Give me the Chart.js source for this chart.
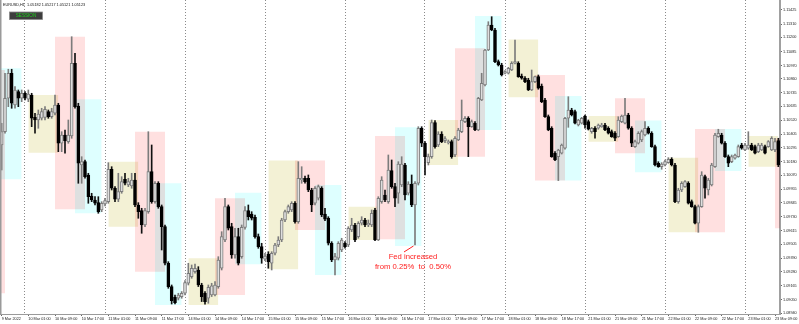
<!DOCTYPE html>
<html lang="en">
<head>
<meta charset="UTF-8">
<title>EURUSD,H1 sessions</title>
<script src="https://cdn.jsdelivr.net/npm/chart.js"></script>
<style>
  html, body { margin: 0; padding: 0; background: #fff; }
  #wrap { width: 799px; height: 324px; }
</style>
</head>
<body>
<div id="wrap"><canvas id="grafico" width="799" height="324"></canvas></div>
<script>
// H1 bars, first bar = 9 Mar 17:00 (broker time)
const days = ['9 Mar', '10 Mar', '11 Mar', '14 Mar', '15 Mar', '16 Mar', '17 Mar', '18 Mar', '21 Mar', '22 Mar', '23 Mar'];
const firstHour = 17;

const open = [
  1.10318,1.10427,1.10701,1.10906,1.10646,1.10755,1.10701,1.10742,1.10693,1.10728,
  1.10545,1.10523,1.10537,1.10545,1.10591,1.10550,1.10578,1.10646,1.10332,1.10400,
  1.10345,1.10392,1.10988,1.10638,1.10154,1.10181,1.10072,1.09900,1.09867,1.09845,
  1.09785,1.09834,1.09853,1.10119,1.09963,1.09873,1.09935,1.10037,1.09990,1.09982,
  1.10031,1.09826,1.09780,1.09662,1.09771,1.10099,1.09853,1.10004,1.09812,1.09648,
  1.09348,1.09157,1.09069,1.09061,1.09075,1.09102,1.09184,1.09239,1.09279,1.09293,
  1.09170,1.09102,1.09061,1.09088,1.09088,1.09157,1.09307,1.09539,1.09812,1.09648,
  1.09416,1.09566,1.09402,1.09643,1.09780,1.09752,1.09725,1.09566,1.09484,1.09381,
  1.09424,1.09348,1.09430,1.09498,1.09539,1.09703,1.09771,1.09785,1.09840,1.09689,
  1.10031,1.10045,1.10045,1.09949,1.09840,1.09881,1.09963,1.09752,1.09717,1.09512,
  1.09375,1.09389,1.09457,1.09512,1.09498,1.09621,1.09662,1.09566,1.09676,1.09703,
  1.09662,1.09662,1.09785,1.09539,1.09853,1.09908,1.09853,1.10108,1.09976,1.09922,
  1.09990,1.10154,1.09922,1.09998,1.09826,1.10004,1.10455,1.10332,1.10173,1.10222,
  1.10501,1.10318,1.10408,1.10354,1.10337,1.10345,1.10236,1.10359,1.10427,1.10509,
  1.10537,1.10468,1.10496,1.10441,1.10687,1.10810,1.11097,1.11302,1.11261,1.11001,
  1.10974,1.10906,1.10906,1.10933,1.10988,1.10988,1.10884,1.10865,1.10851,1.10769,
  1.10837,1.10878,1.10802,1.10687,1.10550,1.10455,1.10250,1.10222,1.10250,1.10291,
  1.10537,1.10605,1.10591,1.10482,1.10496,1.10556,1.10509,1.10427,1.10455,1.10455,
  1.10468,1.10482,1.10455,1.10427,1.10414,1.10386,1.10509,1.10496,1.10564,1.10455,
  1.10304,1.10332,1.10359,1.10400,1.10455,1.10414,1.10304,1.10168,1.10140,1.10154,
  1.10173,1.10201,1.10154,1.09853,1.09949,1.09976,1.10004,1.09853,1.09812,1.09676,
  1.09812,1.10058,1.09949,1.09990,1.10140,1.10386,1.10400,1.10332,1.10222,1.10181,
  1.10209,1.10222,1.10318,1.10277,1.10291,1.10318,1.10304,1.10263,1.10277,1.10304,
  1.10304,1.10277,1.10277,1.10354
];
const high = [
  1.10496,1.10906,1.10939,1.10939,1.10796,1.10769,1.10769,1.10755,1.10769,1.10742,
  1.10578,1.10605,1.10619,1.10632,1.10605,1.10619,1.10728,1.10660,1.10427,1.10441,
  1.10523,1.11206,1.11070,1.10660,1.10222,1.10195,1.10086,1.09922,1.09894,1.09894,
  1.09853,1.09881,1.10173,1.10140,1.09976,1.10086,1.10058,1.10086,1.10045,1.10086,
  1.10086,1.09845,1.09799,1.09799,1.10427,1.10318,1.10017,1.10017,1.09826,1.09662,
  1.09361,1.09170,1.09088,1.09102,1.09116,1.09206,1.09348,1.09334,1.09342,1.09320,
  1.09184,1.09116,1.09170,1.09184,1.09198,1.09402,1.09607,1.09881,1.09826,1.09676,
  1.09635,1.09635,1.09662,1.09812,1.09826,1.09771,1.09744,1.09588,1.09512,1.09430,
  1.09443,1.09443,1.09512,1.09566,1.09717,1.09785,1.09826,1.09853,1.09853,1.10181,
  1.10140,1.10064,1.10072,1.09963,1.09976,1.09990,1.09976,1.09799,1.09730,1.09525,
  1.09430,1.09525,1.09553,1.09525,1.09648,1.09717,1.09676,1.09689,1.09730,1.09717,
  1.09703,1.09785,1.09799,1.09894,1.10058,1.09949,1.10236,1.10195,1.10004,1.10181,
  1.10222,1.10168,1.10017,1.10072,1.10017,1.10468,1.10468,1.10345,1.10244,1.10523,
  1.10518,1.10427,1.10427,1.10386,1.10359,1.10359,1.10386,1.10455,1.10687,1.10550,
  1.10550,1.10523,1.10509,1.10709,1.10906,1.11102,1.11329,1.11370,1.11275,1.11015,
  1.10988,1.10928,1.10955,1.11001,1.11179,1.11001,1.10900,1.10878,1.10865,1.10933,
  1.10884,1.10892,1.10818,1.10701,1.10564,1.10468,1.10263,1.10283,1.10326,1.10545,
  1.10714,1.10619,1.10605,1.10529,1.10545,1.10564,1.10523,1.10463,1.10468,1.10490,
  1.10496,1.10496,1.10468,1.10441,1.10427,1.10550,1.10564,1.10701,1.10578,1.10468,
  1.10359,1.10427,1.10441,1.10509,1.10468,1.10427,1.10318,1.10181,1.10173,1.10195,
  1.10214,1.10214,1.10168,1.09963,1.10017,1.10026,1.10017,1.09867,1.09826,1.09826,
  1.10099,1.10072,1.10045,1.10168,1.10414,1.10447,1.10414,1.10345,1.10236,1.10236,
  1.10244,1.10318,1.10332,1.10332,1.10427,1.10332,1.10318,1.10332,1.10332,1.10318,
  1.10354,1.10386,1.10373,1.10373
];
const low = [
  1.10113,1.10414,1.10632,1.10619,1.10619,1.10632,1.10673,1.10687,1.10673,1.10468,
  1.10414,1.10455,1.10523,1.10523,1.10537,1.10537,1.10564,1.10263,1.10263,1.10250,
  1.10332,1.10373,1.10619,1.10004,1.10004,1.10045,1.09840,1.09853,1.09826,1.09758,
  1.09771,1.09818,1.09840,1.09949,1.09853,1.09853,1.09922,1.09990,1.09976,1.09963,
  1.09812,1.09717,1.09594,1.09648,1.09758,1.09840,1.09840,1.09799,1.09457,1.09334,
  1.09143,1.09014,1.09014,1.09047,1.09061,1.09088,1.09170,1.09225,1.09266,1.09157,
  1.09034,1.09012,1.09020,1.09075,1.09080,1.09143,1.09293,1.09525,1.09621,1.09389,
  1.09389,1.09334,1.09389,1.09627,1.09703,1.09703,1.09553,1.09471,1.09348,1.09370,
  1.09307,1.09293,1.09416,1.09484,1.09525,1.09689,1.09758,1.09771,1.09676,1.09676,
  1.10004,1.10004,1.09935,1.09771,1.09826,1.09867,1.09730,1.09698,1.09498,1.09361,
  1.09252,1.09375,1.09443,1.09471,1.09484,1.09607,1.09525,1.09553,1.09662,1.09648,
  1.09648,1.09648,1.09534,1.09534,1.09840,1.09853,1.09840,1.09963,1.09812,1.09840,
  1.09976,1.09867,1.09908,1.09812,1.09498,1.09990,1.10304,1.10072,1.10154,1.10209,
  1.10291,1.10304,1.10337,1.10337,1.10326,1.10209,1.10222,1.10354,1.10419,1.10501,
  1.10222,1.10463,1.10435,1.10435,1.10682,1.10802,1.11092,1.11255,1.10993,1.10966,
  1.10884,1.10900,1.10900,1.10928,1.10982,1.10873,1.10857,1.10829,1.10764,1.10764,
  1.10829,1.10775,1.10665,1.10545,1.10435,1.10217,1.10190,1.10026,1.10244,1.10283,
  1.10463,1.10556,1.10490,1.10474,1.10490,1.10455,1.10441,1.10414,1.10373,1.10447,
  1.10463,1.10435,1.10408,1.10381,1.10354,1.10381,1.10501,1.10490,1.10447,1.10304,
  1.10299,1.10326,1.10345,1.10392,1.10408,1.10299,1.10146,1.10135,1.10119,1.10146,
  1.10168,1.10146,1.09845,1.09840,1.09935,1.09971,1.09834,1.09807,1.09670,1.09602,
  1.09807,1.09881,1.09908,1.09982,1.10135,1.10381,1.10326,1.10217,1.10140,1.10173,
  1.10201,1.10217,1.10283,1.10272,1.10283,1.10272,1.10244,1.10255,1.10272,1.10244,
  1.10299,1.10272,1.10263,1.10140
];
const close = [
  1.10427,1.10701,1.10906,1.10660,1.10769,1.10701,1.10742,1.10701,1.10736,1.10537,
  1.10523,1.10572,1.10591,1.10611,1.10550,1.10591,1.10646,1.10332,1.10400,1.10354,
  1.10400,1.10988,1.10632,1.10168,1.10181,1.10058,1.09894,1.09867,1.09840,1.09771,
  1.09840,1.09862,1.10119,1.09963,1.09873,1.09935,1.10017,1.10004,1.10017,1.10031,
  1.09826,1.09771,1.09662,1.09780,1.10099,1.09853,1.10004,1.09812,1.09648,1.09348,
  1.09157,1.09042,1.09025,1.09088,1.09102,1.09189,1.09266,1.09307,1.09307,1.09170,
  1.09075,1.09034,1.09151,1.09162,1.09170,1.09375,1.09566,1.09812,1.09635,1.09416,
  1.09566,1.09348,1.09643,1.09780,1.09730,1.09717,1.09566,1.09484,1.09389,1.09408,
  1.09361,1.09430,1.09498,1.09539,1.09703,1.09771,1.09812,1.09840,1.09689,1.10045,
  1.10045,1.10017,1.09949,1.09826,1.09963,1.09976,1.09744,1.09709,1.09512,1.09375,
  1.09402,1.09512,1.09539,1.09484,1.09635,1.09662,1.09539,1.09676,1.09703,1.09662,
  1.09676,1.09758,1.09539,1.09881,1.10031,1.09867,1.10113,1.09976,1.09881,1.10162,
  1.10162,1.09908,1.09998,1.09826,1.10004,1.10455,1.10332,1.10222,1.10222,1.10501,
  1.10304,1.10408,1.10345,1.10370,1.10345,1.10222,1.10373,1.10441,1.10523,1.10537,
  1.10468,1.10509,1.10441,1.10701,1.10824,1.11097,1.11302,1.11261,1.11001,1.10974,
  1.10892,1.10919,1.10947,1.10988,1.11001,1.10878,1.10865,1.10837,1.10769,1.10837,
  1.10878,1.10783,1.10673,1.10550,1.10441,1.10222,1.10195,1.10277,1.10318,1.10537,
  1.10605,1.10564,1.10496,1.10523,1.10537,1.10482,1.10447,1.10455,1.10427,1.10482,
  1.10482,1.10441,1.10414,1.10386,1.10373,1.10523,1.10556,1.10564,1.10455,1.10332,
  1.10345,1.10414,1.10427,1.10455,1.10414,1.10304,1.10154,1.10140,1.10162,1.10181,
  1.10201,1.10154,1.09853,1.09949,1.10004,1.10017,1.09840,1.09812,1.09676,1.09812,
  1.10072,1.09963,1.10031,1.10154,1.10400,1.10414,1.10332,1.10222,1.10168,1.10222,
  1.10236,1.10304,1.10291,1.10318,1.10318,1.10277,1.10250,1.10318,1.10318,1.10250,
  1.10345,1.10373,1.10345,1.10154
];

// session ranges per day (null = session not on screen)
const asiaHigh   = [null,    1.10728, 1.10181, 1.09389, 1.10190, 1.09812, 1.10523, 1.11184, 1.10556, 1.10214, 1.10392];
const asiaLow    = [null,    1.10255, 1.09648, 1.09006, 1.09299, 1.09539, 1.10154, 1.10709, 1.10345, 1.09602, 1.10140];
const londonHigh = [1.10933, 1.11206, 1.10427, 1.09881, 1.10190, 1.10392, 1.11111, 1.10892, 1.10701, 1.10449, 1.10373];
const londonLow  = [1.09102, 1.09791, 1.09279, 1.09088, 1.09621, 1.09545, 1.10222, 1.10026, 1.10250, 1.09602, 1.09635];
const nyHigh     = [1.10947, 1.10693, 1.10004, 1.09927, 1.09990, 1.10463, 1.11376, 1.10720, 1.10518, 1.10449, null];
const nyLow      = [1.10037, 1.09758, 1.09006, 1.09340, 1.09252, 1.09490, 1.10441, 1.10026, 1.10094, 1.10105, null];
const asiaHours = [1, 10], londonHours = [9, 18], nyHours = [15, 23];

const xTickLabels = ['9 Mar 2022', '10 Mar 01:00', '10 Mar 09:00', '10 Mar 17:00', '11 Mar 01:00', '11 Mar 09:00',
  '11 Mar 17:00', '14 Mar 01:00', '14 Mar 09:00', '14 Mar 17:00', '15 Mar 01:00', '15 Mar 09:00', '15 Mar 17:00',
  '16 Mar 01:00', '16 Mar 09:00', '16 Mar 17:00', '17 Mar 01:00', '17 Mar 09:00', '17 Mar 17:00', '18 Mar 01:00',
  '18 Mar 09:00', '18 Mar 17:00', '21 Mar 01:00', '21 Mar 09:00', '21 Mar 17:00', '22 Mar 01:00', '22 Mar 09:00',
  '22 Mar 17:00', '23 Mar 01:00', '23 Mar 09:00'];
const yTicks = [1.11425, 1.11310, 1.11200, 1.11085, 1.10970, 1.10860, 1.10745, 1.10635, 1.10520, 1.10405, 1.10295,
  1.10180, 1.10070, 1.09955, 1.09845, 1.09730, 1.09615, 1.09505, 1.09390, 1.09280, 1.09165, 1.09050, 1.08940];
const yMin = 1.08932, yMax = 1.11507;

const header = 'EURUSD,H1  1.05182 1.05217 1.05121 1.05123';
const noteLines = ['Fed increased', 'from 0.25%  to  0.50%'];
const noteBar = 124;

const N = open.length;
const FONT = "'Liberation Sans', Arial, sans-serif";

function barOf(day, hour) { return day * 24 + hour - firstHour; }

// one filled line dataset per session box
function sessionBoxes(name, hours, hi, lo, color) {
  const out = [];
  hi.forEach((h, d) => {
    if (h === null) return;
    out.push({
      type: 'line',
      label: name + ' ' + days[d],
      isBox: true,
      data: [{x: barOf(d, hours[0]), y: h}, {x: barOf(d, hours[1]), y: h}],
      borderColor: 'rgba(0,0,0,0)',
      borderWidth: 1,
      pointRadius: 0,
      backgroundColor: color,
      fill: {value: lo[d]},
      order: 5
    });
  });
  return out;
}

const bull = open.map((o, i) => close[i] >= o);
const wicks = open.map((o, i) => ({x: i, y: [low[i], high[i]]}));
const bodies = open.map((o, i) => ({x: i, y: [o, close[i]]}));

// session boxes mix where they overlap (pink x cyan -> grey)
const blendPlugin = {
  id: 'blend',
  beforeDatasetsDraw(chart) {
    chart.ctx.save();
    chart.ctx.globalCompositeOperation = 'multiply';
  },
  beforeDatasetDraw(chart, args) {
    if (!chart.data.datasets[args.index].isBox) chart.ctx.globalCompositeOperation = 'source-over';
  },
  afterDatasetsDraw(chart) {
    chart.ctx.restore();
  }
};

const decoPlugin = {
  id: 'deco',
  afterDraw(chart) {
    const c = chart.ctx, a = chart.chartArea;
    c.save();
    // left frame line
    c.fillStyle = '#9a9a9a';
    c.fillRect(0, 0, 1.5, a.bottom);
    // header
    c.fillStyle = '#111';
    c.font = '3.8px ' + FONT;
    c.textBaseline = 'middle';
    c.textAlign = 'left';
    c.fillText(header, 3, 4.5);
    // SESSION button
    c.fillStyle = '#3d3d3d';
    c.fillRect(9.5, 12, 33, 7.5);
    c.strokeStyle = '#8a8a8a';
    c.lineWidth = 0.8;
    c.strokeRect(9.5, 12, 33, 7.5);
    c.fillStyle = '#1fd01f';
    c.font = '4.6px ' + FONT;
    c.textAlign = 'center';
    c.fillText('SESSION', 26, 15.9);
    // Fed note
    const ax = chart.scales.x.getPixelForValue(noteBar);
    const ay = chart.scales.y.getPixelForValue(low[noteBar]);
    c.strokeStyle = '#ff2020';
    c.lineWidth = 1;
    c.beginPath();
    c.moveTo(ax - 1.5, ay + 1);
    c.lineTo(ax - 11, ay + 7);
    c.stroke();
    c.fillStyle = '#ff2020';
    c.font = '7.7px ' + FONT;
    c.fillText(noteLines[0], ax - 2, ay + 12);
    c.fillText(noteLines[1], ax - 2, ay + 21.5);
    c.restore();
  }
};

new Chart(document.getElementById('grafico'), {
  type: 'bar',
  data: {
    datasets: [
      {
        label: 'bodies',
        data: bodies,
        xAxisID: 'x',
        grouped: false,
        barThickness: 3,
        minBarLength: 1,
        borderWidth: 1,
        borderSkipped: false,
        backgroundColor: bull.map(b => b ? '#dedede' : '#000000'),
        borderColor: bull.map(b => b ? '#7c7c7c' : '#000000'),
        order: 1
      },
      {
        label: 'wicks',
        data: wicks,
        xAxisID: 'x',
        grouped: false,
        barThickness: 1,
        borderWidth: 0,
        backgroundColor: bull.map(b => b ? '#7c7c7c' : '#111111'),
        order: 2
      },
      ...sessionBoxes('Asia', asiaHours, asiaHigh, asiaLow, 'rgb(243,241,213)'),
      ...sessionBoxes('London', londonHours, londonHigh, londonLow, 'rgb(255,224,224)'),
      ...sessionBoxes('New York', nyHours, nyHigh, nyLow, 'rgb(222,255,255)')
    ]
  },
  options: {
    responsive: false,
    animation: false,
    devicePixelRatio: 1,
    layout: { padding: 0, autoPadding: false },
    plugins: { legend: { display: false }, tooltip: { enabled: false } },
    scales: {
      x: {
        type: 'linear',
        position: 'bottom',
        offset: false,
        min: -0.5,
        max: N - 0.5,
        afterBuildTicks: s => { s.ticks = xTickLabels.map((t, i) => ({ value: i * 8 })); },
        afterFit: s => { s.height = 10; s.paddingLeft = 0; s.paddingRight = 0; },
        ticks: {
          autoSkip: false, maxRotation: 0, minRotation: 0, align: 'start', padding: 1,
          color: '#222', font: { family: FONT, size: 3.8 },
          callback: (v, i) => xTickLabels[i]
        },
        grid: { offset: false, drawOnChartArea: false, tickLength: 2, color: '#666' },
        border: { color: '#9a9a9a', width: 1 }
      },
      xs: {
        type: 'linear',
        position: 'bottom',
        offset: false,
        min: -0.5,
        max: N - 0.5,
        afterBuildTicks: s => { s.ticks = days.slice(1).map((d, i) => ({ value: barOf(i + 1, 0) })); },
        afterFit: s => { s.height = 0; s.paddingLeft = 0; s.paddingRight = 0; },
        ticks: { display: false },
        grid: { offset: false, drawTicks: false, color: '#8a8a8a', lineWidth: 1 },
        border: { display: false, dash: [1, 2] }
      },
      y: {
        type: 'linear',
        position: 'right',
        min: yMin,
        max: yMax,
        afterBuildTicks: s => { s.ticks = yTicks.map(v => ({ value: v })); },
        afterFit: s => { s.width = 19; s.paddingTop = 0; s.paddingBottom = 0; },
        ticks: {
          padding: 1, color: '#222', font: { family: FONT, size: 3.8 },
          callback: v => v.toFixed(5)
        },
        grid: { drawOnChartArea: false, tickLength: 2, color: '#666' },
        border: { color: '#a0a0a0', width: 2 }
      }
    }
  },
  plugins: [blendPlugin, decoPlugin]
});
</script>
</body>
</html>
